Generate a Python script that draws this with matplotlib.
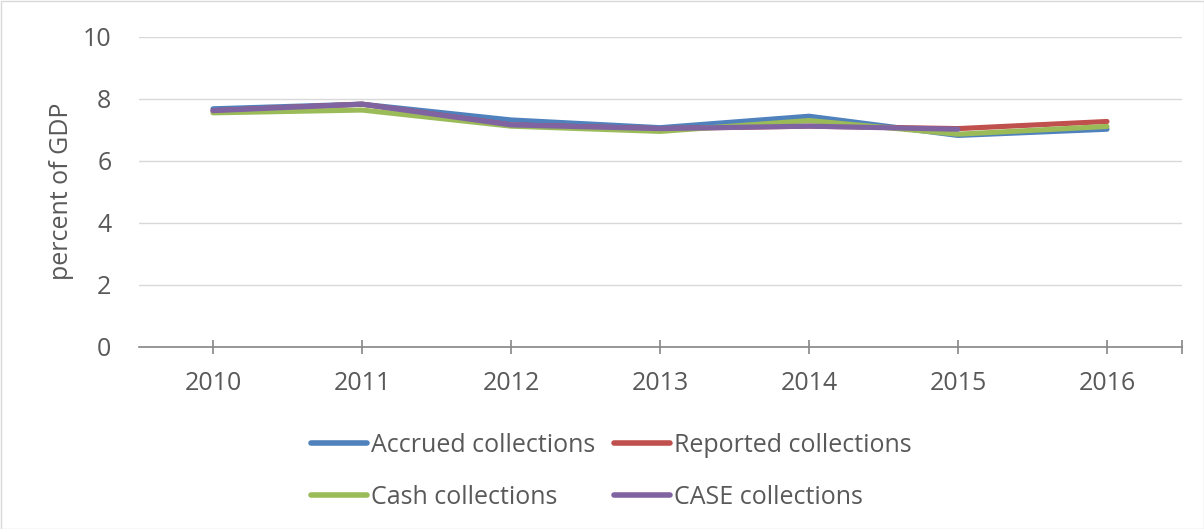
import matplotlib
matplotlib.use("Agg")
import matplotlib.pyplot as plt
from matplotlib.patches import Rectangle

years = ["2010", "2011", "2012", "2013", "2014", "2015", "2016"]
accrued = [7.68, 7.83, 7.32, 7.07, 7.44, 6.82, 7.02]
reported = [7.62, 7.83, 7.16, 7.04, 7.12, 7.04, 7.27]
cash = [7.55, 7.64, 7.12, 6.95, 7.30, 6.86, 7.11]
case = [7.62, 7.83, 7.16, 7.04, 7.12, 7.02, None]

plt.rcParams['font.family'] = ['Open Sans', 'DejaVu Sans']
txt = '#595959'

fig = plt.figure(figsize=(12.04, 5.29), dpi=100)
ax = fig.add_axes([138.5/1204, 1-346.5/529, (1181.5-138.5)/1204, (346.5-37)/529])

x = list(range(len(years)))
lw = 3.7
h1, = ax.plot(x, accrued, color='#4F81BD', lw=lw, solid_capstyle='round', label='Accrued collections', zorder=3)
h2, = ax.plot(x, reported, color='#C0504D', lw=lw, solid_capstyle='round', label='Reported collections', zorder=4)
h3, = ax.plot(x, cash, color='#9BBB59', lw=lw, solid_capstyle='round', label='Cash collections', zorder=5)
xc = [i for i, v in zip(x, case) if v is not None]
yc = [v for v in case if v is not None]
h4, = ax.plot(xc, yc, color='#8064A2', lw=lw, solid_capstyle='round', label='CASE collections', zorder=6)

ax.set_xlim(-0.5, 6.5)
ax.set_ylim(0, 10)
ax.set_yticks([0, 2, 4, 6, 8, 10])
ax.set_xticks(x)
ax.set_xticklabels(years)
ax.set_xticks([6.5], minor=True)
ax.tick_params(axis='x', which='both', direction='inout', length=10, color='#868686', width=1.2)
ax.tick_params(axis='x', which='major', pad=13, labelsize=18, labelcolor=txt)
ax.tick_params(axis='y', length=0, pad=19.5, labelsize=18, labelcolor=txt)
ax.grid(axis='y', color='#d9d9d9', lw=1)
ax.set_axisbelow(True)
for s in ['top', 'right', 'left']:
    ax.spines[s].set_visible(False)
ax.spines['bottom'].set_color('#868686')
ax.spines['bottom'].set_linewidth(1.2)
ax.spines['bottom'].set_zorder(2)
ax.set_ylabel('percent of GDP', fontsize=18, color=txt, labelpad=6)

leg = fig.legend([h1, h3, h2, h4], [h.get_label() for h in (h1, h3, h2, h4)],
                 loc='center', bbox_to_anchor=(611/1204, 1-471/529), ncol=2, frameon=False,
                 fontsize=18, handlelength=2.24, handletextpad=0.16, columnspacing=0.76,
                 labelspacing=1.08)
for t in leg.get_texts():
    t.set_color(txt)
for l in leg.get_lines():
    l.set_linewidth(4.0)
    l.set_solid_capstyle('round')

fig.patches.append(Rectangle((0.5/1204, 0.5/529), 1-1/1204, 1-1/529, transform=fig.transFigure,
                             fill=False, edgecolor='#d9d9d9', lw=1))

fig.savefig('out.png', dpi=100)
